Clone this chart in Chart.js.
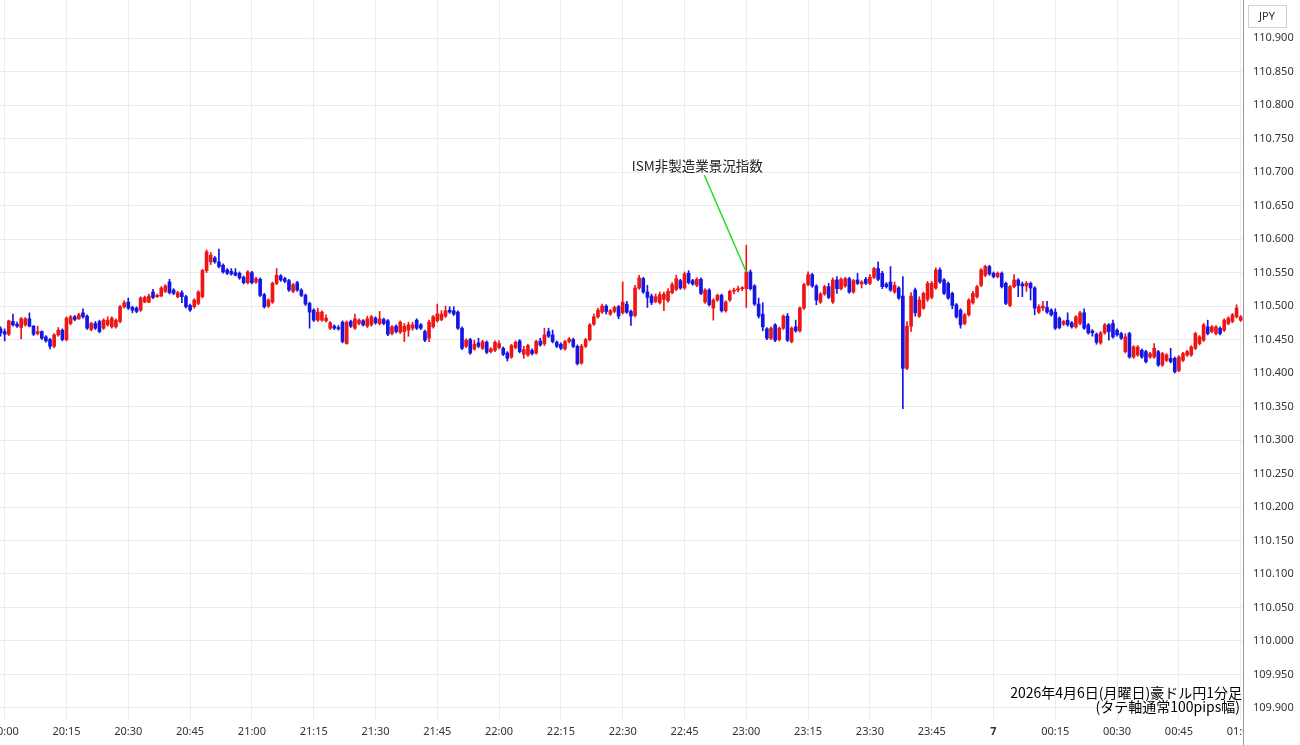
<!DOCTYPE html>
<html>
<head>
<meta charset="utf-8">
<script src="https://cdn.jsdelivr.net/npm/chart.js@4.4.1/dist/chart.umd.min.js"></script>
<style>
  html, body { margin: 0; padding: 0; background: #fff; overflow: hidden; }
  #wrap { position: absolute; left: 0; top: 0; width: 1300px; height: 745px; }
</style>
</head>
<body>
<div id="wrap"><canvas id="chart"></canvas></div>
<script>
"use strict";

// AUD/JPY 1-minute candles, minute offsets from 20:00 (first candle is 19:59)
const firstMinute = -1;

const opens = [
  110.466,110.462,110.458,110.477,110.473,110.468,110.472,110.481,110.470,110.459,
  110.462,110.454,110.450,110.440,110.457,110.464,110.450,110.474,110.484,110.481,
  110.490,110.485,110.465,110.474,110.477,110.467,110.472,110.469,110.469,110.477,
  110.499,110.506,110.498,110.497,110.494,110.506,110.506,110.521,110.514,110.515,
  110.522,110.536,110.524,110.514,110.520,110.514,110.501,110.499,110.504,110.514,
  110.553,110.566,110.572,110.566,110.561,110.554,110.552,110.550,110.549,110.543,
  110.535,110.550,110.536,110.540,110.517,110.500,110.506,110.534,110.545,110.541,
  110.538,110.522,110.535,110.524,110.516,110.504,110.494,110.479,110.479,110.478,
  110.467,110.470,110.468,110.476,110.444,110.477,110.467,110.474,110.478,110.470,
  110.472,110.482,110.474,110.480,110.478,110.459,110.470,110.461,110.462,110.464,
  110.467,110.479,110.472,110.462,110.452,110.469,110.478,110.480,110.485,110.494,
  110.493,110.491,110.467,110.440,110.450,110.436,110.445,110.437,110.446,110.432,
  110.434,110.438,110.437,110.430,110.424,110.438,110.448,110.428,110.427,110.434,
  110.430,110.448,110.444,110.462,110.457,110.446,110.443,110.436,110.447,110.450,
  110.440,110.415,110.440,110.450,110.473,110.484,110.491,110.500,110.488,110.492,
  110.499,110.490,110.503,110.492,110.486,110.527,110.541,110.521,110.515,110.507,
  110.505,110.510,110.508,110.520,110.525,110.538,110.527,110.549,110.538,110.531,
  110.540,110.506,110.524,110.497,110.509,110.516,110.493,110.509,110.522,110.524,
  110.526,110.526,110.551,110.530,110.503,110.488,110.466,110.452,110.472,110.450,
  110.467,110.485,110.447,110.469,110.463,110.497,110.532,110.547,110.530,110.506,
  110.518,110.529,110.506,110.539,110.526,110.530,110.541,110.521,110.539,110.533,
  110.540,110.534,110.543,110.556,110.549,110.533,110.536,110.521,110.527,110.515,
  110.407,110.470,110.524,110.485,110.497,110.510,110.513,110.527,110.554,110.539,
  110.534,110.519,110.502,110.494,110.474,110.487,110.505,110.514,110.531,110.546,
  110.559,110.549,110.544,110.549,110.534,110.501,110.529,110.539,110.533,110.530,
  110.534,110.527,110.491,110.497,110.498,110.494,110.491,110.482,110.473,110.479,
  110.475,110.469,110.474,110.490,110.472,110.463,110.458,110.445,110.460,110.472,
  110.474,110.464,110.459,110.432,110.459,110.424,110.427,110.434,110.432,110.424,
  110.424,110.432,110.412,110.419,110.422,110.422,110.404,110.419,110.427,110.427,
  110.437,110.444,110.449,110.469,110.462,110.459,110.467,110.464,110.474,110.477,
  110.484,110.479
];

const highs = [
  110.469,110.466,110.479,110.488,110.476,110.483,110.483,110.490,110.471,110.470,
  110.463,110.456,110.452,110.459,110.468,110.466,110.484,110.486,110.486,110.489,
  110.496,110.487,110.476,110.477,110.479,110.481,110.484,110.484,110.481,110.501,
  110.508,110.512,110.500,110.499,110.514,110.515,110.518,110.525,110.518,110.529,
  110.532,110.540,110.526,110.522,110.523,110.516,110.503,110.511,110.523,110.555,
  110.584,110.580,110.574,110.585,110.563,110.556,110.556,110.556,110.551,110.545,
  110.553,110.552,110.543,110.542,110.519,110.511,110.536,110.556,110.547,110.543,
  110.540,110.534,110.537,110.526,110.518,110.506,110.496,110.497,110.493,110.487,
  110.477,110.472,110.471,110.478,110.478,110.479,110.488,110.481,110.480,110.485,
  110.486,110.484,110.492,110.482,110.480,110.471,110.472,110.478,110.474,110.476,
  110.476,110.481,110.474,110.464,110.479,110.486,110.503,110.493,110.500,110.499,
  110.499,110.493,110.469,110.451,110.452,110.449,110.452,110.449,110.448,110.438,
  110.448,110.448,110.439,110.432,110.443,110.448,110.450,110.440,110.443,110.436,
  110.449,110.452,110.467,110.467,110.464,110.448,110.445,110.449,110.453,110.452,
  110.442,110.443,110.452,110.474,110.488,110.497,110.503,110.502,110.495,110.500,
  110.501,110.536,110.507,110.494,110.531,110.546,110.543,110.531,110.518,110.518,
  110.521,110.521,110.526,110.535,110.546,110.540,110.551,110.553,110.540,110.542,
  110.542,110.526,110.526,110.511,110.518,110.518,110.508,110.524,110.527,110.530,
  110.529,110.591,110.554,110.532,110.512,110.505,110.468,110.469,110.474,110.469,
  110.487,110.489,110.469,110.479,110.499,110.534,110.551,110.549,110.532,110.520,
  110.531,110.534,110.542,110.544,110.542,110.543,110.543,110.540,110.549,110.538,
  110.543,110.547,110.558,110.566,110.552,110.535,110.559,110.536,110.529,110.544,
  110.477,110.520,110.527,110.514,110.521,110.537,110.537,110.557,110.557,110.541,
  110.536,110.521,110.504,110.496,110.489,110.511,110.522,110.531,110.556,110.561,
  110.561,110.551,110.551,110.551,110.536,110.531,110.547,110.541,110.536,110.537,
  110.536,110.529,110.502,110.507,110.507,110.496,110.496,110.484,110.479,110.490,
  110.477,110.486,110.492,110.496,110.474,110.465,110.460,110.462,110.474,110.474,
  110.479,110.466,110.461,110.459,110.461,110.441,110.441,110.436,110.434,110.431,
  110.444,110.434,110.431,110.429,110.437,110.424,110.426,110.431,110.434,110.441,
  110.461,110.456,110.474,110.479,110.471,110.471,110.469,110.481,110.484,110.489,
  110.502,110.486
];

const lows = [
  110.455,110.448,110.456,110.470,110.468,110.451,110.470,110.469,110.456,110.457,
  110.450,110.446,110.436,110.438,110.455,110.448,110.448,110.472,110.478,110.480,
  110.482,110.465,110.463,110.465,110.460,110.465,110.470,110.467,110.467,110.475,
  110.497,110.495,110.490,110.490,110.492,110.505,110.505,110.511,110.513,110.514,
  110.520,110.518,110.517,110.512,110.505,110.497,110.492,110.497,110.502,110.512,
  110.550,110.562,110.564,110.557,110.549,110.547,110.546,110.545,110.540,110.533,
  110.533,110.533,110.534,110.514,110.497,110.498,110.504,110.532,110.537,110.535,
  110.522,110.520,110.522,110.514,110.501,110.467,110.477,110.477,110.477,110.476,
  110.465,110.465,110.464,110.445,110.443,110.468,110.465,110.472,110.470,110.468,
  110.470,110.473,110.472,110.472,110.456,110.457,110.460,110.459,110.447,110.455,
  110.464,110.465,110.465,110.447,110.447,110.467,110.476,110.478,110.483,110.489,
  110.486,110.465,110.435,110.438,110.428,110.434,110.438,110.435,110.429,110.430,
  110.432,110.436,110.426,110.418,110.422,110.436,110.430,110.422,110.425,110.427,
  110.428,110.440,110.441,110.453,110.445,110.438,110.435,110.434,110.445,110.438,
  110.412,110.413,110.438,110.448,110.471,110.482,110.489,110.488,110.486,110.490,
  110.481,110.488,110.489,110.471,110.484,110.525,110.519,110.498,110.502,110.505,
  110.503,110.493,110.506,110.518,110.523,110.525,110.525,110.533,110.531,110.529,
  110.517,110.504,110.500,110.479,110.507,110.491,110.491,110.507,110.518,110.521,
  110.523,110.498,110.524,110.501,110.482,110.463,110.450,110.450,110.447,110.448,
  110.465,110.447,110.445,110.461,110.461,110.495,110.530,110.528,110.502,110.504,
  110.516,110.511,110.504,110.519,110.524,110.528,110.519,110.519,110.532,110.527,
  110.532,110.532,110.541,110.538,110.526,110.527,110.522,110.519,110.510,110.347,
  110.405,110.462,110.485,110.483,110.495,110.507,110.511,110.525,110.534,110.517,
  110.510,110.496,110.482,110.467,110.472,110.485,110.503,110.512,110.529,110.544,
  110.546,110.542,110.542,110.527,110.502,110.499,110.527,110.514,110.514,110.522,
  110.509,110.487,110.489,110.493,110.489,110.485,110.465,110.466,110.471,110.470,
  110.467,110.467,110.472,110.465,110.458,110.455,110.443,110.443,110.458,110.449,
  110.452,110.455,110.450,110.430,110.422,110.422,110.425,110.422,110.415,110.422,
  110.422,110.410,110.410,110.417,110.415,110.400,110.402,110.417,110.425,110.425,
  110.435,110.442,110.447,110.457,110.460,110.457,110.457,110.462,110.472,110.475,
  110.482,110.477
];

const closes = [
  110.460,110.458,110.478,110.472,110.470,110.481,110.481,110.470,110.458,110.462,
  110.452,110.448,110.440,110.457,110.464,110.450,110.482,110.484,110.480,110.487,
  110.484,110.467,110.474,110.467,110.462,110.479,110.479,110.482,110.479,110.499,
  110.505,110.497,110.494,110.492,110.512,110.513,110.515,110.513,110.516,110.527,
  110.530,110.520,110.519,110.520,110.514,110.499,110.494,110.509,110.521,110.553,
  110.581,110.576,110.566,110.559,110.551,110.549,110.548,110.546,110.542,110.535,
  110.551,110.535,110.541,110.516,110.499,110.509,110.534,110.546,110.539,110.537,
  110.524,110.532,110.524,110.516,110.503,110.491,110.479,110.491,110.491,110.482,
  110.475,110.467,110.466,110.447,110.476,110.470,110.481,110.479,110.472,110.481,
  110.484,110.475,110.481,110.474,110.458,110.469,110.462,110.476,110.470,110.472,
  110.472,110.467,110.467,110.449,110.476,110.484,110.488,110.488,110.493,110.491,
  110.488,110.467,110.437,110.449,110.430,110.443,110.440,110.447,110.431,110.436,
  110.446,110.444,110.428,110.422,110.441,110.446,110.432,110.435,110.441,110.429,
  110.447,110.442,110.457,110.455,110.447,110.440,110.437,110.447,110.451,110.440,
  110.414,110.440,110.450,110.472,110.484,110.494,110.500,110.492,110.493,110.498,
  110.485,110.506,110.491,110.485,110.527,110.542,110.521,110.513,110.505,110.514,
  110.517,110.518,110.522,110.532,110.541,110.527,110.548,110.535,110.533,110.540,
  110.519,110.524,110.502,110.509,110.516,110.493,110.506,110.522,110.524,110.526,
  110.527,110.551,110.526,110.503,110.485,110.469,110.452,110.467,110.449,110.467,
  110.485,110.449,110.467,110.463,110.497,110.532,110.547,110.530,110.509,110.518,
  110.529,110.513,110.539,110.526,110.540,110.541,110.521,110.538,110.534,110.536,
  110.534,110.543,110.556,110.540,110.529,110.529,110.524,110.531,110.512,110.407,
  110.470,110.515,110.490,110.509,110.519,110.534,110.534,110.554,110.536,110.519,
  110.512,110.501,110.484,110.472,110.487,110.509,110.519,110.529,110.554,110.559,
  110.548,110.544,110.549,110.529,110.504,110.529,110.539,110.531,110.530,110.534,
  110.527,110.497,110.499,110.500,110.491,110.487,110.467,110.468,110.477,110.472,
  110.469,110.484,110.490,110.467,110.460,110.460,110.446,110.460,110.472,110.462,
  110.454,110.457,110.452,110.454,110.424,110.439,110.439,110.424,110.417,110.429,
  110.437,110.412,110.429,110.427,110.417,110.402,110.424,110.429,110.432,110.439,
  110.459,110.454,110.472,110.459,110.469,110.469,110.459,110.479,110.482,110.487,
  110.497,110.484
];

// x axis ticks (minutes from 20:00) and their labels
const tickMinutes = [0, 15, 30, 45, 60, 75, 90, 105, 120, 135, 150, 165, 180, 195, 210, 225, 240, 255, 270, 285, 300];
const tickLabels = ['20:00', '20:15', '20:30', '20:45', '21:00', '21:15', '21:30', '21:45', '22:00', '22:15', '22:30',
  '22:45', '23:00', '23:15', '23:30', '23:45', '7', '00:15', '00:30', '00:45', '01:00'];
const dayMinute = 240;

// price axis ticks
const priceTicks = [109.90, 109.95, 110.00, 110.05, 110.10, 110.15, 110.20, 110.25, 110.30, 110.35, 110.40,
  110.45, 110.50, 110.55, 110.60, 110.65, 110.70, 110.75, 110.80, 110.85, 110.90];

const eventMinute = 180;
const eventLabel = 'ISM非製造業景況指数';
const titleLines = ['2026年4月6日(月曜日)豪ドル円1分足', '(タテ軸通常100pips幅)'];
const currency = 'JPY';

const UP = '#ee1515';
const DOWN = '#1515e6';
const GRID = '#e6ecf2';

const minutes = opens.map((_, k) => firstMinute + k);
const colors = opens.map((o, k) => closes[k] >= o ? UP : DOWN);

// extra drawing: price panel border, currency box, event marker, caption
const overlay = {
  id: 'overlay',
  afterDraw(chart) {
    const { ctx, chartArea, scales } = chart;
    const x = scales.x, y = scales.y;
    ctx.save();

    // clip tick labels that run under the price panel
    ctx.fillStyle = '#fff';
    ctx.fillRect(chartArea.right + 1, chartArea.bottom + 1, chart.width, chart.height);

    ctx.strokeStyle = '#9a9a9a';
    ctx.lineWidth = 1;
    ctx.beginPath();
    ctx.moveTo(Math.round(chartArea.right) + 0.5, 0);
    ctx.lineTo(Math.round(chartArea.right) + 0.5, chart.height);
    ctx.stroke();

    // currency box
    const bx = chartArea.right + 5;
    ctx.fillStyle = '#fff';
    ctx.fillRect(bx, 5, 38, 22);
    ctx.strokeStyle = '#d0d0d0';
    ctx.strokeRect(bx + 0.5, 5.5, 38, 22);
    ctx.fillStyle = '#333';
    ctx.font = '11px "Noto Sans", sans-serif';
    ctx.textAlign = 'center';
    ctx.textBaseline = 'middle';
    ctx.fillText(currency, bx + 19, 17);

    // event marker
    const k = minutes.indexOf(eventMinute);
    const ex = x.getPixelForValue(eventMinute);
    const ey = y.getPixelForValue(closes[k]);
    ctx.strokeStyle = '#22dd22';
    ctx.lineWidth = 1.5;
    ctx.beginPath();
    ctx.moveTo(ex - 42, ey - 97);
    ctx.lineTo(ex, ey);
    ctx.stroke();
    ctx.fillStyle = '#222';
    ctx.font = '13.5px "Noto Sans CJK JP", sans-serif';
    ctx.fillText(eventLabel, ex - 49, ey - 106);

    // caption
    ctx.textAlign = 'right';
    ctx.fillStyle = '#000';
    ctx.font = '14px "Noto Sans CJK JP", sans-serif';
    ctx.fillText(titleLines[0], chartArea.right - 1, chartArea.bottom - 27);
    ctx.fillText(titleLines[1], chartArea.right - 3, chartArea.bottom - 13);
    ctx.restore();
  }
};

new Chart(document.getElementById('chart'), {
  type: 'bar',
  data: {
    datasets: [
      {
        label: 'body',
        data: minutes.map((m, k) => ({ x: m, y: [opens[k], closes[k]] })),
        backgroundColor: colors,
        barThickness: 3,
        minBarLength: 1,
        grouped: false
      },
      {
        label: 'wick',
        data: minutes.map((m, k) => ({ x: m, y: [lows[k], highs[k]] })),
        backgroundColor: colors,
        barThickness: 1,
        grouped: false
      }
    ]
  },
  options: {
    responsive: true,
    maintainAspectRatio: false,
    animation: false,
    events: [],
    layout: { padding: 0 },
    plugins: { legend: { display: false }, tooltip: { enabled: false } },
    scales: {
      x: {
        type: 'linear',
        min: -1.14,
        max: 300.56,
        offset: false,
        afterBuildTicks: s => { s.ticks = tickMinutes.map(v => ({ value: v })); },
        afterFit: s => { s.height = 25; s.paddingLeft = 0; s.paddingRight = 0; },
        grid: { color: GRID, drawTicks: false, offset: false },
        border: { display: false },
        ticks: {
          autoSkip: false,
          maxRotation: 0,
          padding: 5,
          color: '#333',
          font: c => ({ size: 11, family: '"Noto Sans", sans-serif', weight: c.tick && c.tick.value === dayMinute ? 'bold' : 'normal' }),
          callback: v => tickLabels[tickMinutes.indexOf(v)]
        }
      },
      y: {
        position: 'right',
        min: 109.882,
        max: 110.957,
        afterBuildTicks: s => { s.ticks = priceTicks.map(v => ({ value: v })); },
        afterFit: s => { s.width = 57; s.paddingTop = 0; s.paddingBottom = 0; },
        grid: { color: GRID, drawTicks: false },
        border: { display: false },
        ticks: {
          padding: 10,
          color: '#333',
          font: { size: 11, family: '"Noto Sans", sans-serif' },
          callback: v => v.toFixed(3)
        }
      }
    }
  },
  plugins: [overlay]
});
</script>
</body>
</html>
